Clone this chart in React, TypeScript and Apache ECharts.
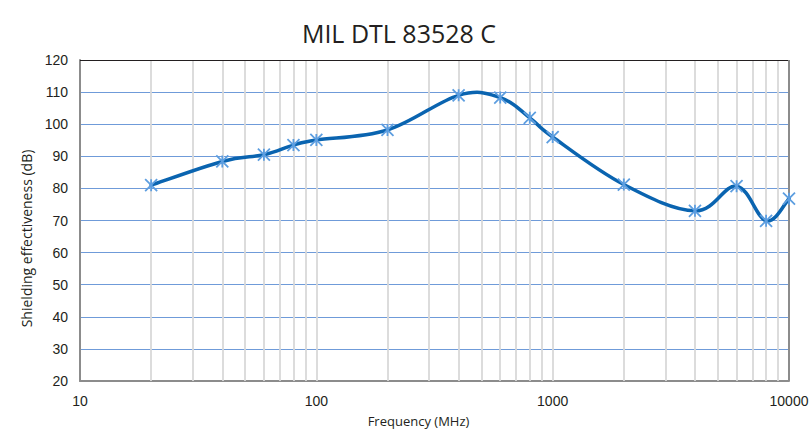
import React, { useEffect, useRef } from "react";
import * as echarts from "echarts";

const frequencies = [20, 40, 60, 80, 100, 200, 400, 600, 800, 1000, 2000, 4000, 6000, 8000, 10000];
const shielding = [81, 88.4, 90.5, 93.5, 95.1, 98.2, 109, 108.3, 102, 96, 81.2, 73, 80.7, 69.9, 76.8];
const verticalGrid = [20, 30, 40, 50, 60, 70, 80, 90, 100, 200, 300, 400, 500, 600, 700, 800, 900, 1000, 2000, 3000, 4000, 5000, 6000, 7000, 8000, 9000];
const xTickLabels = ["10", "100", "1000", "10000"];

export default function App() {
  const ref = useRef<HTMLDivElement>(null);
  useEffect(() => {
    const chart = echarts.init(ref.current!, null, { renderer: "svg" });
    const textColor = "#231f20";
    const points = frequencies.map((f, i) => [f, shielding[i]]);
    const tension = 1 / 5.5;
    chart.setOption({
      animation: false,
      backgroundColor: "#ffffff",
      title: {
        text: "MIL DTL 83528 C",
        left: 394,
        top: 15,
        textAlign: "center",
        textStyle: { fontFamily: "Open Sans", fontWeight: "normal", fontSize: 25, color: textColor },
      },
      grid: { left: 80, right: 22, top: 60, bottom: 50, containLabel: false, outerBoundsMode: "none" },
      xAxis: {
        type: "log",
        logBase: 10,
        min: 10,
        max: 10000,
        name: "Frequency (MHz)",
        nameLocation: "middle",
        nameGap: 33,
        nameTextStyle: { fontFamily: "Open Sans", fontSize: 13, color: textColor, padding: [0, 32, 0, 0] },
        axisLine: { show: true, lineStyle: { color: "#8c8c8c", width: 2 } },
        axisTick: { show: false },
        splitLine: { show: false },
        axisLabel: {
          fontFamily: "Liberation Sans",
          fontSize: 14,
          color: textColor,
          margin: 13,
          formatter: (v: number) => {
            const s = String(Math.round(v));
            return xTickLabels.includes(s) ? s : "";
          },
        },
      },
      yAxis: {
        type: "value",
        min: 20,
        max: 120,
        interval: 10,
        name: "Shielding effectiveness (dB)",
        nameLocation: "middle",
        nameGap: 47,
        nameTextStyle: { fontFamily: "Open Sans", fontSize: 14, color: textColor, padding: [0, 36, 0, 0] },
        axisLine: { show: true, lineStyle: { color: "#8c8c8c", width: 2 } },
        axisTick: { show: false },
        axisLabel: { fontFamily: "Liberation Sans", fontSize: 14, color: textColor, margin: 12 },
        splitLine: { show: true, lineStyle: { color: "#6f9bd9", width: 1 } },
      },
      series: [
        {
          type: "line",
          data: [],
          silent: true,
          markLine: {
            silent: true,
            z: 1,
            symbol: "none",
            label: { show: false },
            lineStyle: { color: "#d9d9d9", width: 1.8, type: "solid" },
            data: verticalGrid.map((v) => ({ xAxis: v })),
          },
        },
        {
          type: "line",
          data: [],
          silent: true,
          markLine: {
            silent: true,
            z: 1,
            symbol: "none",
            label: { show: false },
            data: [
              { yAxis: 120, lineStyle: { color: "#231f20", width: 1, type: "solid" } },
              { xAxis: 10000, lineStyle: { color: "#8c8c8c", width: 2, type: "solid" } },
            ],
          },
        },
        {
          type: "custom",
          z: 3,
          silent: true,
          data: [points[0]],
          renderItem: (params: any, api: any) => {
            const p = points.map((d) => api.coord(d));
            let d = `M${p[0][0]},${p[0][1]}`;
            for (let i = 0; i < p.length - 1; i++) {
              const p0 = p[Math.max(i - 1, 0)];
              const p1 = p[i];
              const p2 = p[i + 1];
              const p3 = p[Math.min(i + 2, p.length - 1)];
              const c1x = p1[0] + (p2[0] - p0[0]) * tension;
              const c1y = p1[1] + (p2[1] - p0[1]) * tension;
              const c2x = p2[0] - (p3[0] - p1[0]) * tension;
              const c2y = p2[1] - (p3[1] - p1[1]) * tension;
              d += ` C${c1x},${c1y} ${c2x},${c2y} ${p2[0]},${p2[1]}`;
            }
            return {
              type: "path",
              shape: { pathData: d },
              style: { stroke: "#0a64b0", lineWidth: 3.5, fill: "none", lineJoin: "round", lineCap: "round" },
            };
          },
        },
        {
          type: "scatter",
          z: 4,
          silent: true,
          data: points,
          symbol: "path://M0,0L10,10M10,0L0,10M5,0L5,10",
          symbolSize: 12,
          itemStyle: { color: "none", borderColor: "#5d9ee0", borderWidth: 1.8, opacity: 1 },
        },
      ],
    });
    return () => chart.dispose();
  }, []);
  return (
    <div
      ref={ref}
      style={{ position: "fixed", left: 0, top: 0, width: 811, height: 431, background: "#ffffff" }}
    />
  );
}
